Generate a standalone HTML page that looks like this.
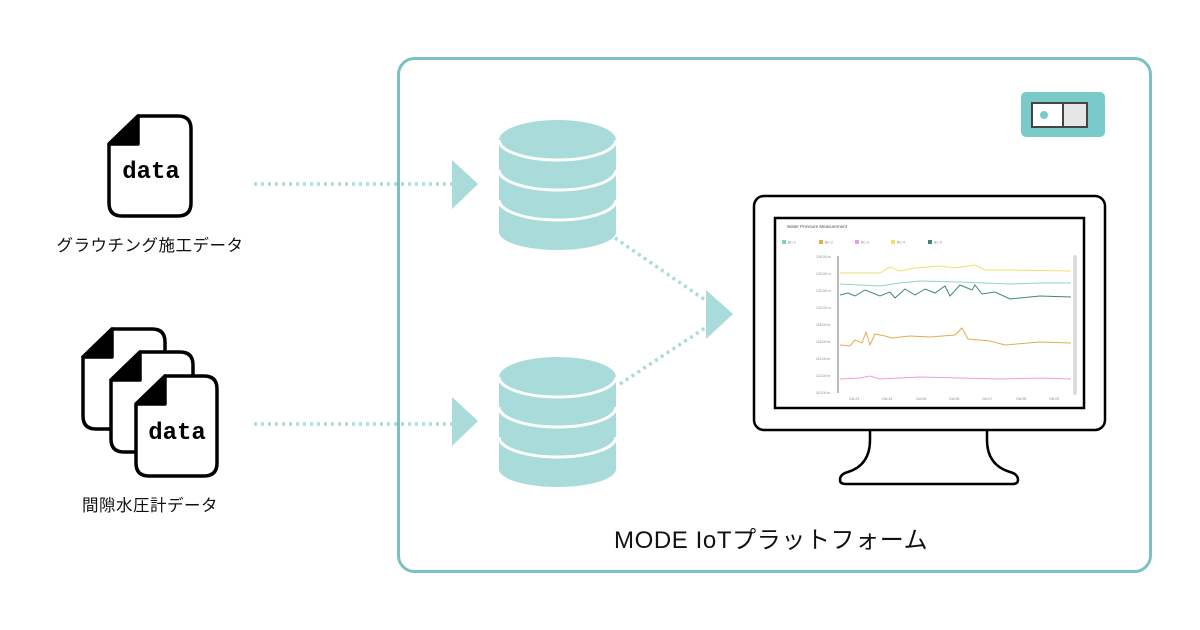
<!DOCTYPE html>
<html><head><meta charset="utf-8"><style>
html,body{margin:0;padding:0;background:#fff;}
svg{display:block;}
.s{font-family:"Liberation Sans","Noto Sans CJK JP",sans-serif;}
.m{font-family:"Liberation Mono","DejaVu Sans Mono",monospace;font-weight:bold;}
</style></head><body>
<svg width="1200" height="630" viewBox="0 0 1200 630" xmlns="http://www.w3.org/2000/svg">
<rect x="0" y="0" width="1200" height="630" fill="#fff"/>
<rect x="398.5" y="58.5" width="752" height="513" rx="16" fill="none" stroke="#7bc1c1" stroke-width="3"/>
<text class="s" x="614" y="548" font-size="24" letter-spacing="0.6" fill="#111">MODE IoTプラットフォーム</text>

<g stroke="#000" stroke-width="3.5" stroke-linejoin="round">
 <path d="M138,116 L178,116 Q191,116 191,129 L191,203 Q191,216 178,216 L122,216 Q109,216 109,203 L109,144 Z" fill="#fff"/>
 <path d="M138,116 L138,144 L109,144 Z" fill="#000"/>
</g>
<text class="m" x="151" y="178" font-size="24" text-anchor="middle" fill="#000">data</text>
<text class="s" x="150" y="251" font-size="16.5" letter-spacing="0.5" text-anchor="middle" fill="#111">グラウチング施工データ</text>

<g stroke="#000" stroke-width="3.5" stroke-linejoin="round">
 <path d="M112,329 L152,329 Q165,329 165,342 L165,416 Q165,429 152,429 L96,429 Q83,429 83,416 L83,357 Z" fill="#fff"/>
 <path d="M112,329 L112,357 L83,357 Z" fill="#000"/>
 <path d="M140,352 L180,352 Q193,352 193,365 L193,439 Q193,452 180,452 L124,452 Q111,452 111,439 L111,380 Z" fill="#fff"/>
 <path d="M140,352 L140,380 L111,380 Z" fill="#000"/>
 <path d="M165,376 L204,376 Q217,376 217,389 L217,463 Q217,476 204,476 L149,476 Q136,476 136,463 L136,404 Z" fill="#fff"/>
 <path d="M165,376 L165,404 L136,404 Z" fill="#000"/>
</g>
<text class="m" x="177" y="439" font-size="24" text-anchor="middle" fill="#000">data</text>
<text class="s" x="150" y="511" font-size="16.5" letter-spacing="0.5" text-anchor="middle" fill="#111">間隙水圧計データ</text>

<g stroke="#a8dbd9" stroke-width="3.5" stroke-dasharray="3 4" fill="none">
 <line x1="254" y1="184" x2="455" y2="184"/>
 <line x1="254" y1="424" x2="455" y2="424"/>
 <line x1="615" y1="238" x2="708" y2="302"/>
 <line x1="620" y1="384" x2="708" y2="326"/>
</g>
<g fill="#a8dbd9">
 <polygon points="452,160 478,184 452,209"/>
 <polygon points="452,397 478,421 452,446"/>
 <polygon points="706,290 733,314 706,339"/>
</g>

<g>
 <path d="M499,140 L499,232 A58.5,18 0 0 0 616,232 L616,140 Z" fill="#a8dbd9"/>
 <ellipse cx="557.5" cy="140" rx="58.5" ry="20" fill="#a8dbd9"/>
 <path d="M499,140 A58.5,20 0 0 0 616,140" fill="none" stroke="#fff" stroke-width="3"/>
 <path d="M499,170 A58.5,20 0 0 0 616,170" fill="none" stroke="#fff" stroke-width="3"/>
 <path d="M499,200 A58.5,20 0 0 0 616,200" fill="none" stroke="#fff" stroke-width="3"/>
</g>
<g transform="translate(0,237)">
 <path d="M499,140 L499,232 A58.5,18 0 0 0 616,232 L616,140 Z" fill="#a8dbd9"/>
 <ellipse cx="557.5" cy="140" rx="58.5" ry="20" fill="#a8dbd9"/>
 <path d="M499,140 A58.5,20 0 0 0 616,140" fill="none" stroke="#fff" stroke-width="3"/>
 <path d="M499,170 A58.5,20 0 0 0 616,170" fill="none" stroke="#fff" stroke-width="3"/>
 <path d="M499,200 A58.5,20 0 0 0 616,200" fill="none" stroke="#fff" stroke-width="3"/>
</g>

<rect x="1021" y="92" width="84" height="45" rx="5" fill="#7bcaca"/>
<rect x="1032" y="103" width="31" height="24" fill="#fff" stroke="#444" stroke-width="2"/>
<rect x="1063" y="103" width="24" height="24" fill="#e6e6e6" stroke="#444" stroke-width="2"/>
<circle cx="1044" cy="115" r="4" fill="#7bcaca"/>

<path d="M870,430 L870,440 Q870,465 848,472 Q840,474 840,480 Q840,484 846,484 L1012,484 Q1018,484 1018,480 Q1018,474 1010,472 Q987,465 987,440 L987,430" fill="#fff" stroke="#000" stroke-width="2.5"/>
<rect x="754" y="196" width="351" height="234" rx="10" fill="#fff" stroke="#000" stroke-width="2.5"/>
<rect x="775" y="218" width="309" height="190" fill="#fff" stroke="#000" stroke-width="2.5"/>
<text class="s" x="787" y="228" font-size="4.5" fill="#555">Water Pressure Measurement</text>
<g class="s" font-size="3.5" fill="#888">
 <rect x="782" y="240" width="4" height="4" fill="#7fd3b8"/><text x="788" y="243.5">BC-1</text>
 <rect x="819" y="240" width="4" height="4" fill="#e3ad4e"/><text x="825" y="243.5">BC-2</text>
 <rect x="855" y="240" width="4" height="4" fill="#ec9be0"/><text x="861" y="243.5">BC-3</text>
 <rect x="891" y="240" width="4" height="4" fill="#eee26a"/><text x="897" y="243.5">BC-4</text>
 <rect x="928" y="240" width="4" height="4" fill="#3f8a6b"/><text x="934" y="243.5">BC-5</text>
 <text x="816" y="258">126.00 m</text><text x="816" y="275">124.00 m</text><text x="816" y="292">122.00 m</text><text x="816" y="309">120.00 m</text><text x="816" y="326">118.00 m</text><text x="816" y="343">116.00 m</text><text x="816" y="360">114.00 m</text><text x="816" y="377">112.00 m</text><text x="816" y="394">110.00 m</text>
 <text x="849" y="400">Oct 23</text><text x="882" y="400">Oct 24</text><text x="916" y="400">Oct 05</text><text x="949" y="400">Oct 06</text><text x="982" y="400">Oct 07</text><text x="1016" y="400">Oct 08</text><text x="1049" y="400">Oct 09</text>
</g>
<line x1="838" y1="256" x2="838" y2="393" stroke="#555" stroke-width="0.8"/>
<rect x="1073" y="255" width="4" height="140" rx="2" fill="#ddd"/>
<g fill="none" stroke-width="1">
 <path d="M840,273 L880,273 L890,267 L900,271 L915,268 L940,266 L955,268 L975,265 L985,270 L1010,270 L1071,271" stroke="#eee26a"/>
 <path d="M840,284 L880,286 L900,283 L920,281 L960,282 L1010,284 L1040,283 L1071,283" stroke="#8fd6c2"/>
 <path d="M840,295 L848,293 L855,296 L865,290 L880,296 L890,292 L895,298 L905,289 L915,295 L925,289 L935,293 L945,286 L950,296 L960,285 L972,290 L975,285 L982,294 L995,292 L1010,299 L1040,296 L1071,297" stroke="#3f8a6b"/>
 <path d="M840,345 L850,346 L855,340 L862,343 L866,332 L870,345 L875,334 L885,336 L892,338 L910,336 L930,337 L955,335 L962,328 L968,339 L990,341 L1005,345 L1040,342 L1071,343" stroke="#e3ad4e"/>
 <path d="M840,379 L860,378 L870,376 L880,379 L900,378 L920,377 L960,378 L1000,379 L1040,378 L1071,379" stroke="#ec9be0"/>
</g>
</svg>
</body></html>
